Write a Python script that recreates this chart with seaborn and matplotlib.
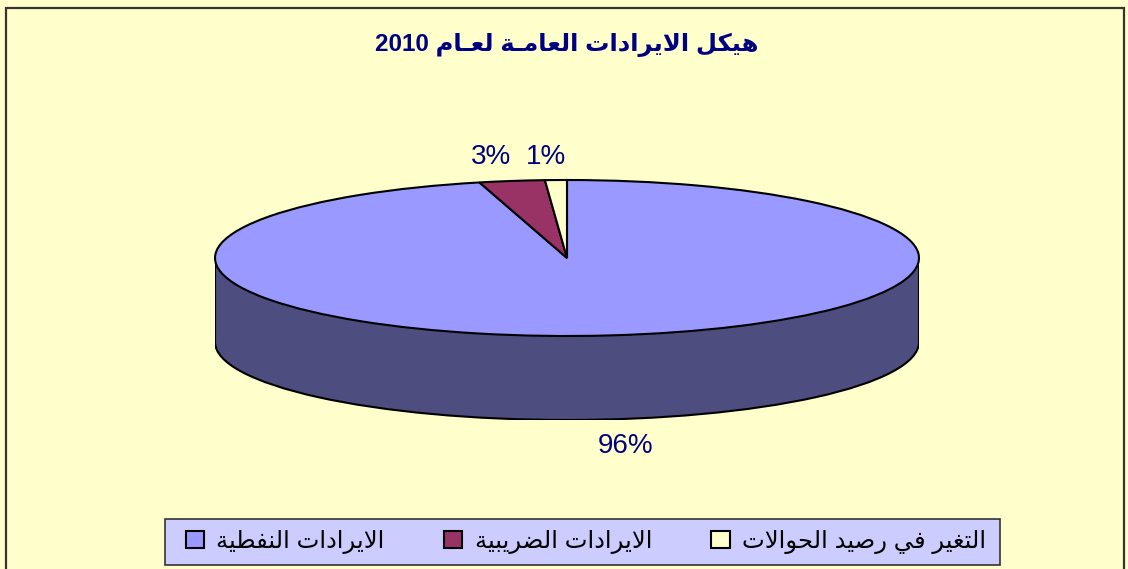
import re
import matplotlib
matplotlib.use("Agg")
import matplotlib.pyplot as plt
from matplotlib.patches import Rectangle, Ellipse
import seaborn as sns

# chart data
title_text = "هيكل الايرادات العامـة لعـام 2010"
categories = ["الايرادات النفطية", "الايرادات الضريبية", "التغير في رصيد الحوالات"]
shares = [96, 3, 1]
pct_labels = ["96%", "3%", "1%"]

top_colors = ["#9999FF", "#993366", "#FFFFCC"]
side_colors = ["#4D4D7F", "#4C1933", "#7F7F66"]
navy = "#000080"

# --- tiny arabic shaper (matplotlib has no bidi / joining support) ---
FORMS = {
    "ا": (0xFE8D, 0xFE8E, None, None), "ب": (0xFE8F, 0xFE90, 0xFE91, 0xFE92),
    "ة": (0xFE93, 0xFE94, None, None), "ت": (0xFE95, 0xFE96, 0xFE97, 0xFE98),
    "ث": (0xFE99, 0xFE9A, 0xFE9B, 0xFE9C), "ج": (0xFE9D, 0xFE9E, 0xFE9F, 0xFEA0),
    "ح": (0xFEA1, 0xFEA2, 0xFEA3, 0xFEA4), "خ": (0xFEA5, 0xFEA6, 0xFEA7, 0xFEA8),
    "د": (0xFEA9, 0xFEAA, None, None), "ذ": (0xFEAB, 0xFEAC, None, None),
    "ر": (0xFEAD, 0xFEAE, None, None), "ز": (0xFEAF, 0xFEB0, None, None),
    "س": (0xFEB1, 0xFEB2, 0xFEB3, 0xFEB4), "ش": (0xFEB5, 0xFEB6, 0xFEB7, 0xFEB8),
    "ص": (0xFEB9, 0xFEBA, 0xFEBB, 0xFEBC), "ض": (0xFEBD, 0xFEBE, 0xFEBF, 0xFEC0),
    "ط": (0xFEC1, 0xFEC2, 0xFEC3, 0xFEC4), "ظ": (0xFEC5, 0xFEC6, 0xFEC7, 0xFEC8),
    "ع": (0xFEC9, 0xFECA, 0xFECB, 0xFECC), "غ": (0xFECD, 0xFECE, 0xFECF, 0xFED0),
    "ف": (0xFED1, 0xFED2, 0xFED3, 0xFED4), "ق": (0xFED5, 0xFED6, 0xFED7, 0xFED8),
    "ك": (0xFED9, 0xFEDA, 0xFEDB, 0xFEDC), "ل": (0xFEDD, 0xFEDE, 0xFEDF, 0xFEE0),
    "م": (0xFEE1, 0xFEE2, 0xFEE3, 0xFEE4), "ن": (0xFEE5, 0xFEE6, 0xFEE7, 0xFEE8),
    "ه": (0xFEE9, 0xFEEA, 0xFEEB, 0xFEEC), "و": (0xFEED, 0xFEEE, None, None),
    "ى": (0xFEEF, 0xFEF0, None, None), "ي": (0xFEF1, 0xFEF2, 0xFEF3, 0xFEF4),
    "لا": (0xFEFB, 0xFEFC, None, None),
}


def joins_next(ch):
    return ch == "ـ" or (ch in FORMS and FORMS[ch][2] is not None)


def is_arabic(ch):
    return ch == "ـ" or ch in FORMS


def shape(text):
    chars = []
    i = 0
    while i < len(text):
        if text[i] == "ل" and i + 1 < len(text) and text[i + 1] == "ا":
            chars.append("لا")
            i += 2
        else:
            chars.append(text[i])
            i += 1
    out = []
    for k, ch in enumerate(chars):
        if ch not in FORMS:
            out.append(ch)
            continue
        prev_j = k > 0 and joins_next(chars[k - 1])
        next_j = joins_next(ch) and k + 1 < len(chars) and is_arabic(chars[k + 1])
        iso, fin, ini, med = FORMS[ch]
        if prev_j and next_j:
            code = med
        elif prev_j:
            code = fin
        elif next_j:
            code = ini
        else:
            code = iso
        out.append(chr(code))
    s = "".join(out)
    # visual order: reverse, keeping digit runs left-to-right
    parts = re.split(r"([0-9]+)", s)
    return "".join(p if p.isdigit() else p[::-1] for p in parts[::-1])


sns.set_style("white")
plt.rcParams["font.family"] = ["Liberation Sans", "DejaVu Sans"]

fig = plt.figure(figsize=(11.28, 5.69), dpi=100, facecolor="#FFFFCC")
W, H = 1128, 569

# outer chart frame
fig.patches.append(Rectangle((6 / W, -0.05), 1118 / W, 1.05 - 8 / H, transform=fig.transFigure,
                             facecolor="none", edgecolor="#333333", lw=1.6))

# pie geometry (pixels)
cx, cy, rx, ry, depth = 567, 258, 352, 78, 84
d = depth / ry
ax = fig.add_axes([(cx - rx) / W, (H - (cy + ry + depth)) / H, 2 * rx / W, (2 * ry + depth) / H])
ax.set_facecolor("none")

# side of the cylinder
ax.pie(shares, colors=side_colors, startangle=90, counterclock=False, center=(0, -d),
       wedgeprops=dict(edgecolor="none"))
ax.add_patch(Ellipse((0, -d), 2, 2, facecolor="none", edgecolor="black", lw=1.5, zorder=1.4))
ax.add_patch(Rectangle((-1, -d), 2, d, facecolor=side_colors[0], edgecolor="none", zorder=1.5))
ax.plot([-1, -1], [-d, 0], color="black", lw=1.5, zorder=1.6)
ax.plot([1, 1], [-d, 0], color="black", lw=1.5, zorder=1.6)
# top face
wedges, _ = ax.pie(shares, colors=top_colors, startangle=90, counterclock=False,
                   wedgeprops=dict(edgecolor="black", linewidth=1.5))
for w in wedges:
    w.set_zorder(2)
ax.set_aspect("auto")
ax.set_xlim(-1, 1)
ax.set_ylim(-1 - d, 1)
ax.axis("off")

# percentage labels
label_pos = [(0.165, -1 - d - 0.33), (-0.215, 1.30), (-0.06, 1.30)]
for txt, (lx, ly) in zip(pct_labels, label_pos):
    ax.text(lx, ly, txt, ha="center", va="center", fontsize=20, color=navy, clip_on=False)

fig.text(cx / W, 1 - 45 / H, shape(title_text), ha="center", va="center",
         fontsize=17.5, fontweight="bold", color=navy)

# legend box
fig.patches.append(Rectangle((165 / W, 4 / H), 835 / W, 46 / H, transform=fig.transFigure,
                             facecolor="#CCCCFF", edgecolor="#333333", lw=1.2))
leg = fig.legend(wedges, [shape(c) for c in categories], loc="center left", ncol=3,
                 bbox_to_anchor=(186 / W, 4 / H, 800 / W, 46 / H), mode="expand",
                 frameon=False, fontsize=17.5, handlelength=0.75, handleheight=0.75,
                 borderaxespad=0, borderpad=0, handletextpad=0.5, columnspacing=1,
                 labelcolor="black")
for h in leg.legend_handles:
    h.set_edgecolor("black")
    h.set_linewidth(1.5)

fig.savefig("out.png", dpi=100, facecolor=fig.get_facecolor())
